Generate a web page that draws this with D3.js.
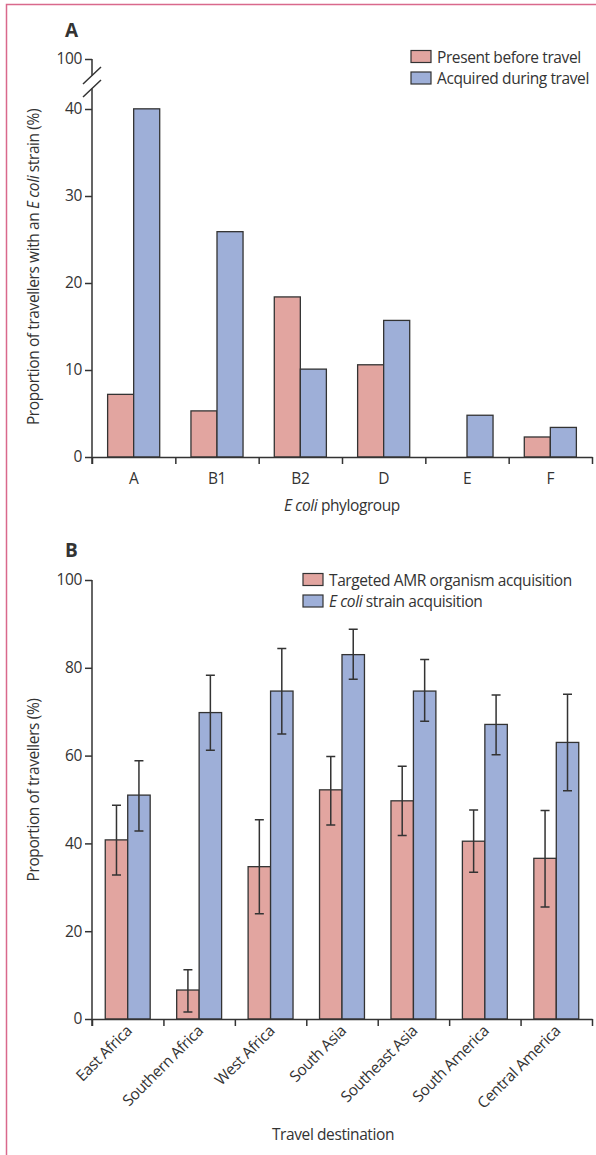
<!doctype html>
<html>
  <head>
    <script src="https://cdnjs.cloudflare.com/ajax/libs/d3/7.8.5/d3.min.js"></script>
    <style>
      body { margin: 0; background: #fff; }
      text { font-family: "Open Sans", sans-serif; fill: #333; letter-spacing: -0.4px; }
    </style>
  </head>
  <body>
    <svg id="chart" width="596" height="1155"></svg>
    <script>
      // panel A data
      var groups = ["A", "B1", "B2", "D", "E", "F"];
      var seriesA = ["Present before travel", "Acquired during travel"];
      var before = [7.2, 5.3, 18.4, 10.6, 0, 2.3];
      var acquired = [40.2, 25.9, 10.1, 15.7, 4.8, 3.4];
      var ticksA = [0, 10, 20, 30, 40, 100];

      // panel B data
      var regions = ["East Africa", "Southern Africa", "West Africa", "South Asia", "Southeast Asia", "South America", "Central America"];
      var amr = [40.8, 6.6, 34.7, 52.2, 49.7, 40.5, 36.6];
      var amrLo = [32.8, 1.6, 24.0, 44.2, 41.8, 33.4, 25.5];
      var amrHi = [48.7, 11.2, 45.4, 59.8, 57.6, 47.6, 47.5];
      var ecoli = [51.0, 69.8, 74.7, 83.0, 74.7, 67.1, 63.0];
      var ecoliLo = [42.8, 61.2, 64.9, 77.4, 67.8, 60.2, 52.0];
      var ecoliHi = [58.8, 78.3, 84.4, 88.8, 81.9, 73.8, 74.0];
      var ticksB = [0, 20, 40, 60, 80, 100];

      var red = "#e2a5a0", blue = "#9eafd8", ink = "#333";
      var fs = 15.5;
      var svg = d3.select("#chart");

      // pink frame
      svg.append("path").attr("d", "M596,4.5H6.5V1155")
        .attr("fill", "none").attr("stroke", "#d9698c").attr("stroke-width", 1.5);

      function bars(g, cats, vals, x0, x1, y, keys, colors) {
        cats.forEach(function (c, i) {
          keys.forEach(function (k, j) {
            var v = vals[j][i];
            if (v <= 0) return;
            g.append("rect")
              .attr("x", x0(c) + x1(k))
              .attr("width", x1.bandwidth())
              .attr("y", y(v))
              .attr("height", y(0) - y(v))
              .attr("fill", colors[j]).attr("stroke", ink).attr("stroke-width", 1.3);
          });
        });
      }

      function legend(g, x, y0, labels, colors) {
        labels.forEach(function (l, i) {
          var yy = y0 + i * 21.5;
          g.append("rect").attr("x", x).attr("y", yy).attr("width", 20).attr("height", 12)
            .attr("fill", colors[i]).attr("stroke", ink).attr("stroke-width", 1.2);
          var t = g.append("text").attr("x", x + 26).attr("y", yy + 12).attr("font-size", fs);
          if (l.indexOf("E coli") === 0) {
            t.append("tspan").attr("font-style", "italic").text("E coli");
            t.append("tspan").text(l.slice(6));
          } else t.text(l);
        });
      }

      function boundaryTicks(g, n, left, right, y0) {
        var xt = d3.scaleLinear().domain([0, n]).range([left, right]);
        var ax = g.append("g").attr("transform", "translate(0," + y0 + ")")
          .call(d3.axisBottom(xt).tickValues(d3.range(n + 1)).tickFormat("").tickSize(7).tickSizeOuter(0));
        ax.selectAll("path, line").attr("stroke", ink).attr("stroke-width", 1.5);
      }

      // ---------- panel A ----------
      var left = 92, right = 592;
      var gA = svg.append("g");
      var xA = d3.scaleBand().domain(groups).range([left, right]);
      var xA1 = d3.scaleBand().domain(seriesA).range([0, xA.bandwidth()]).paddingOuter(0.6);
      var yA = d3.scaleLinear().domain([0, 40, 100]).range([457, 109, 59]);

      bars(gA, groups, [before, acquired], xA, xA1, yA, seriesA, [red, blue]);

      var axA = gA.append("g").attr("transform", "translate(" + left + ",0)")
        .call(d3.axisLeft(yA).tickValues(ticksA).tickSize(7).tickPadding(3));
      axA.select(".domain").remove();
      axA.selectAll("line").attr("stroke", ink).attr("stroke-width", 1.5);
      axA.selectAll("text").attr("font-size", fs).attr("fill", ink).style("font-family", "Open Sans");
      // broken axis line
      gA.append("path").attr("d", "M" + left + "," + yA(100) + "V75.5M" + left + ",88.5V" + (yA(0) + 7))
        .attr("stroke", ink).attr("stroke-width", 1.5).attr("fill", "none");
      gA.append("path").attr("d", "M83,84L101,67M83,97L101,80")
        .attr("stroke", ink).attr("stroke-width", 1.5);

      boundaryTicks(gA, groups.length, left, right, yA(0));
      gA.append("g").selectAll("text").data(groups).join("text")
        .attr("x", function (d) { return xA(d) + xA.bandwidth() / 2; })
        .attr("y", 484).attr("text-anchor", "middle").attr("font-size", fs)
        .text(function (d) { return d; });

      var tA = gA.append("text").attr("x", 342).attr("y", 511).attr("text-anchor", "middle").attr("font-size", fs);
      tA.append("tspan").attr("font-style", "italic").text("E coli");
      tA.append("tspan").text(" phylogroup");

      var yTitleA = gA.append("text").attr("transform", "translate(39,267) rotate(-90)")
        .attr("text-anchor", "middle").attr("font-size", fs);
      yTitleA.append("tspan").text("Proportion of travellers with an ");
      yTitleA.append("tspan").attr("font-style", "italic").text("E coli");
      yTitleA.append("tspan").text(" strain (%)");

      gA.append("text").attr("x", 65).attr("y", 37).attr("font-size", 19).attr("font-weight", "bold").text("A");
      legend(gA, 411, 50.5, seriesA, [red, blue]);

      // ---------- panel B ----------
      var seriesB = ["Targeted AMR organism acquisition", "E coli strain acquisition"];
      var gB = svg.append("g");
      var xB = d3.scaleBand().domain(regions).range([left, right]);
      var xB1 = d3.scaleBand().domain(seriesB).range([0, xB.bandwidth()]).paddingOuter(0.59);
      var yB = d3.scaleLinear().domain([0, 100]).range([1019, 580]);

      bars(gB, regions, [amr, ecoli], xB, xB1, yB, seriesB, [red, blue]);

      // error bars
      [[amr, amrLo, amrHi], [ecoli, ecoliLo, ecoliHi]].forEach(function (s, j) {
        regions.forEach(function (r, i) {
          var cx = xB(r) + xB1(seriesB[j]) + xB1.bandwidth() / 2;
          var lo = yB(s[1][i]), hi = yB(s[2][i]);
          gB.append("path")
            .attr("d", "M" + cx + "," + lo + "V" + hi + "M" + (cx - 4.5) + "," + hi + "H" + (cx + 4.5) + "M" + (cx - 4.5) + "," + lo + "H" + (cx + 4.5))
            .attr("stroke", ink).attr("stroke-width", 1.5).attr("fill", "none");
        });
      });

      var axB = gB.append("g").attr("transform", "translate(" + left + ",0)")
        .call(d3.axisLeft(yB).tickValues(ticksB).tickSize(7).tickPadding(3).tickSizeOuter(0));
      axB.select(".domain").attr("d", "M0," + yB(100) + "V" + (yB(0) + 7));
      axB.selectAll("path, line").attr("stroke", ink).attr("stroke-width", 1.5);
      axB.selectAll("text").attr("font-size", fs).attr("fill", ink).style("font-family", "Open Sans");

      boundaryTicks(gB, regions.length, left, right, yB(0));
      gB.append("g").selectAll("text").data(regions).join("text")
        .attr("transform", function (d) {
          return "translate(" + (xB(d) + xB.bandwidth() / 2 + 5) + "," + 1032 + ") rotate(-45)";
        })
        .attr("text-anchor", "end").attr("font-size", fs)
        .text(function (d) { return d; });

      gB.append("text").attr("x", 333).attr("y", 1140).attr("text-anchor", "middle").attr("font-size", fs)
        .text("Travel destination");
      gB.append("text").attr("transform", "translate(39,790) rotate(-90)")
        .attr("text-anchor", "middle").attr("font-size", fs).text("Proportion of travellers (%)");

      gB.append("text").attr("x", 65).attr("y", 557).attr("font-size", 19).attr("font-weight", "bold").text("B");
      legend(gB, 303, 573.5, seriesB, [red, blue]);
    </script>
  </body>
</html>
